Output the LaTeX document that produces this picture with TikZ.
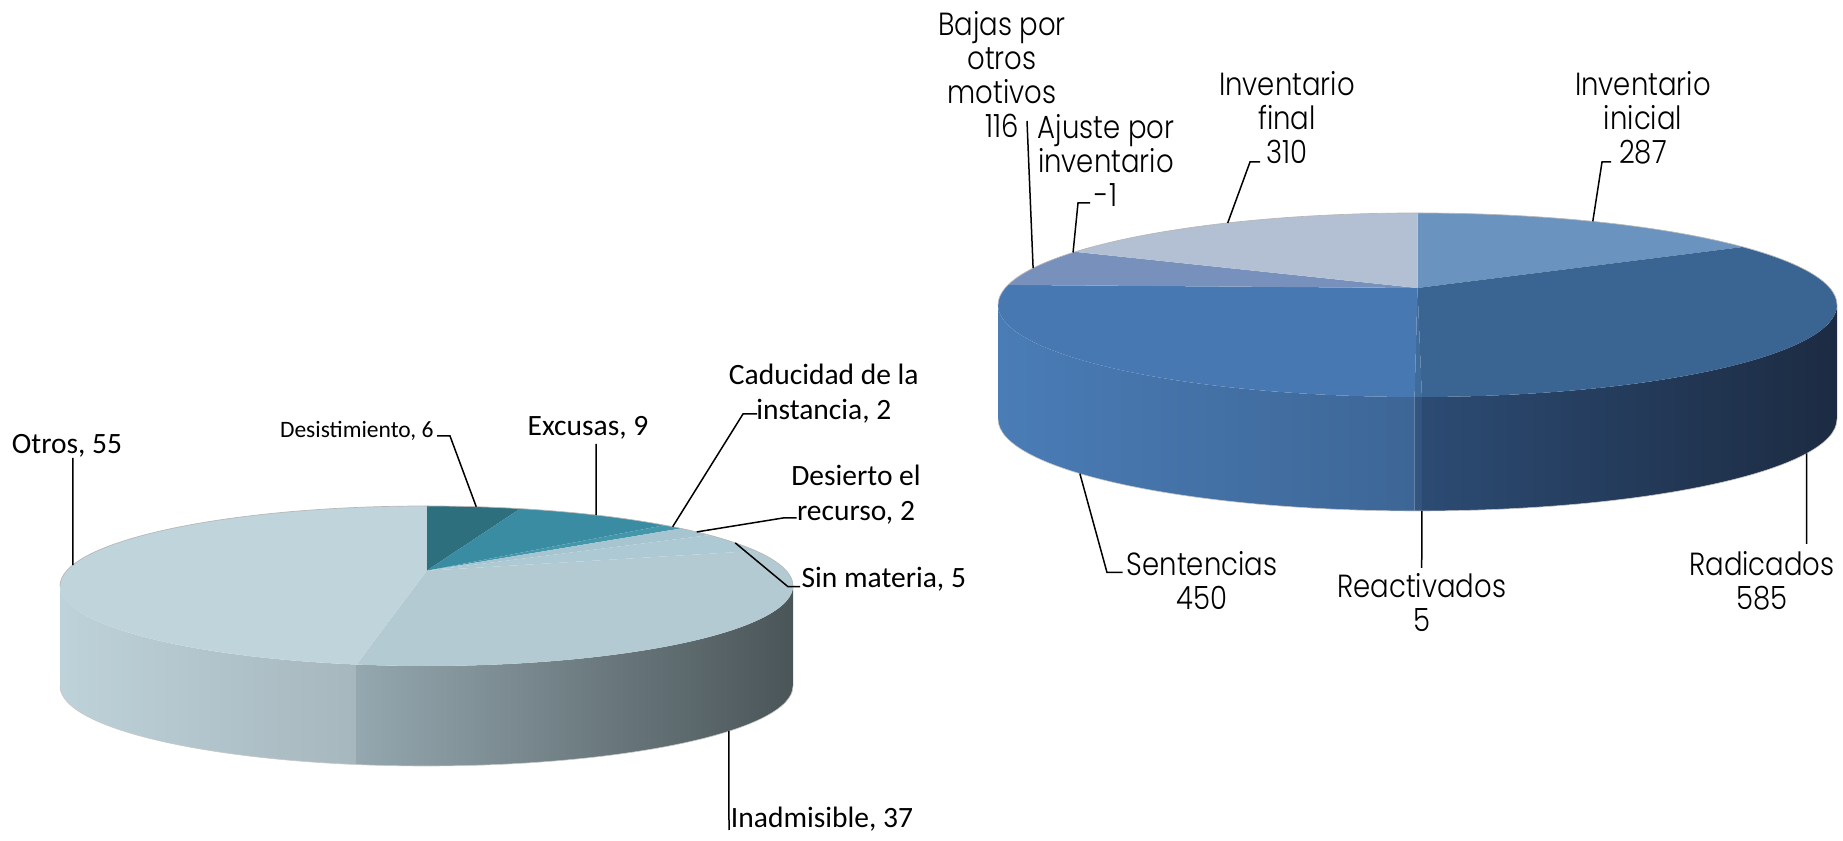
\documentclass[tikz,border=0pt]{standalone}
\usepackage{fontspec}
\usetikzlibrary{calc}
\newfontfamily\calib{Carlito}
\IfFontExistsTF{Poppins Light}{\newfontfamily\gothic{Poppins Light}[FakeStretch=0.86]}{\newfontfamily\gothic{Poppins}[FakeStretch=0.86]}
% left pie colours
\definecolor{cDes}{HTML}{2E6F7D}
\definecolor{cExc}{HTML}{3A8CA2}
\definecolor{cCad}{HTML}{4496AB}
\definecolor{cDsi}{HTML}{A6C5D0}
\definecolor{cSin}{HTML}{ADC9D3}
\definecolor{cIna}{HTML}{B4CAD3}
\definecolor{cOtr}{HTML}{C0D4DC}
\definecolor{otL}{HTML}{BED2DA}
\definecolor{otR}{HTML}{A6B7BD}
\definecolor{inL}{HTML}{95A8AF}
\definecolor{inR}{HTML}{4A5558}
% right pie colours
\definecolor{cIni}{HTML}{6A93BF}
\definecolor{cRad}{HTML}{3A6491}
\definecolor{cRea}{HTML}{3F6C9B}
\definecolor{cSen}{HTML}{4778B2}
\definecolor{cBaj}{HTML}{7891BC}
\definecolor{cFin}{HTML}{B3BFD3}
\definecolor{seL}{HTML}{4A7CB6}
\definecolor{seR}{HTML}{3D6696}
\definecolor{raL}{HTML}{2C4B73}
\definecolor{raR}{HTML}{1C2B42}
\definecolor{reS}{HTML}{33557F}
% helpers
\newcommand{\pieSlice}[5]{\fill[#1] (#2) -- ($(#3)+(#4:\Rx and \Ry)$) arc[start angle=#4, end angle=#5, x radius=\Rx, y radius=\Ry] -- cycle;}
\newcommand{\pieSide}[5]{\shade[left color=#1, right color=#2] ($(#3)+(#4:\Rx and \Ry)$) arc[start angle=#4, end angle=#5, x radius=\Rx, y radius=\Ry] -- ++(0,-\Hh) arc[start angle=#5, end angle=#4, x radius=\Rx, y radius=\Ry] -- cycle;}
\begin{document}
\begin{tikzpicture}[x=1pt,y=1pt,
  lead/.style={black, line width=1.5pt},
  lbl/.style={inner sep=0pt, font=\calib\fontsize{29.5}{35}\selectfont, align=center},
  rlbl/.style={inner sep=0pt, font=\gothic\fontsize{32}{34}\selectfont, align=center},
  rimline/.style={draw=black!28, line width=0.7pt}]
\useasboundingbox (0,0) rectangle (1843,840);

% ================= LEFT PIE =================
\coordinate (CL) at (426.5,254);
\coordinate (AL) at (426.7,269.3);
\def\Rx{366.5pt }\def\Ry{80pt }\def\Hh{100}
\pieSide{otL}{otR}{CL}{180}{259}
\pieSide{inL}{inR}{CL}{259}{360}
\draw[black!22, line width=0.6pt] ($(CL)+(180:\Rx and \Ry)+(0,-\Hh)$) arc[start angle=180, end angle=360, x radius=\Rx, y radius=\Ry];
\pieSlice{cDes}{AL}{CL}{90}{75.2}
\pieSlice{cExc}{AL}{CL}{75.2}{49.5}
\pieSlice{cCad}{AL}{CL}{49.5}{46}
\pieSlice{cDsi}{AL}{CL}{46}{39.5}
\pieSlice{cSin}{AL}{CL}{39.5}{26}
\pieSlice{cIna}{AL}{CL}{26}{-101}
\pieSlice{cOtr}{AL}{CL}{-101}{-270}
\draw[rimline] ($(CL)+(0:\Rx and \Ry)$) arc[start angle=0, end angle=180, x radius=\Rx, y radius=\Ry];

% left labels
\node[lbl] (otros) at (67,394.5) {Otros, 55};
\node[lbl, font=\calib\fontsize{23.5}{28}\selectfont] (desist) at (356.8,409) {Desistimiento, 6};
\node[lbl] (excusas) at (588,412) {Excusas, 9};
\node[lbl] (caduc) at (823.8,446.5) {Caducidad de la\\instancia, 2};
\node[lbl] (desierto) at (856,345.5) {Desierto el\\recurso, 2};
\node[lbl] (sinmat) at (883.8,260.5) {Sin materia, 5};
\node[lbl] (inadm) at (822,21) {Inadmisible, 37};

% left leaders
\coordinate (rOt) at ($(CL)+(164.8:\Rx and \Ry)$);
\coordinate (kOt) at (72.9,382);
\coordinate (rDe) at ($(CL)+(82.2:\Rx and \Ry)$);
\coordinate (kDe1) at (437,404);
\coordinate (kDe2) at (450,404);
\coordinate (rEx) at ($(CL)+(62.45:\Rx and \Ry)$);
\coordinate (kEx) at (596,396);
\coordinate (rCa) at ($(CL)+(47.8:\Rx and \Ry)$);
\coordinate (kCa1) at (757,426);
\coordinate (kCa2) at (743,426);
\coordinate (rDs) at ($(CL)+(42.5:\Rx and \Ry)$);
\coordinate (kDs1) at (796.7,322);
\coordinate (kDs2) at (783,322);
\coordinate (rSi) at ($(CL)+(32.6:\Rx and \Ry)$);
\coordinate (kSi1) at (800,253.3);
\coordinate (kSi2) at (788,253.3);
\coordinate (rIn) at ($(CL)+(-34.4:\Rx and \Ry)+(0,-\Hh)$);
\coordinate (kIn) at (729,10);
\draw[lead] (kOt) -- (rOt);
\draw[lead] (kDe1) -- (kDe2) -- (rDe);
\draw[lead] (kEx) -- (rEx);
\draw[lead] (kCa1) -- (kCa2) -- (rCa);
\draw[lead] (kDs1) -- (kDs2) -- (rDs);
\draw[lead] (kSi1) -- (kSi2) -- (rSi);
\draw[lead] (rIn) -- (kIn);

% ================= RIGHT PIE =================
\coordinate (CR) at (1417.5,535);
\coordinate (AR) at (1417.5,552);
\def\Rx{419.5pt }\def\Ry{92pt }\def\Hh{114}
\pieSide{seL}{seR}{CR}{180}{269.6}
\pieSide{reS}{reS}{CR}{269.6}{270.6}
\pieSide{raL}{raR}{CR}{270.6}{360}
\draw[black!22, line width=0.6pt] ($(CR)+(180:\Rx and \Ry)+(0,-\Hh)$) arc[start angle=180, end angle=360, x radius=\Rx, y radius=\Ry];
\pieSlice{cIni}{AR}{CR}{90}{39.1}
\pieSlice{cRad}{AR}{CR}{39.1}{-89.4}
\pieSlice{cRea}{AR}{CR}{-89.4}{-90.4}
\pieSlice{cSen}{AR}{CR}{-90.4}{-192.6}
\pieSlice{cBaj}{AR}{CR}{-192.6}{-215.3}
\pieSlice{cFin}{AR}{CR}{-215.3}{-270}
\draw[rimline] ($(CR)+(0:\Rx and \Ry)$) arc[start angle=0, end angle=180, x radius=\Rx, y radius=\Ry];

% right labels
\node[rlbl] (bajas) at (1002,765.4) {Bajas por\\otros\\motivos\\116};
\node[rlbl] (ajuste) at (1106,679.7) {Ajuste por\\inventario\\-1};
\node[rlbl] (invfin) at (1287,722.5) {Inventario\\final\\310};
\node[rlbl] (invini) at (1643,722.5) {Inventario\\inicial\\287};
\node[rlbl] (sent) at (1202,259) {Sentencias\\450};
\node[rlbl] (react) at (1421.7,237.2) {Reactivados\\5};
\node[rlbl] (radic) at (1762,259) {Radicados\\585};

% right leaders
\coordinate (rBa) at ($(CR)+(156.4:\Rx and \Ry)$);
\coordinate (kBa) at (1027,719);
\coordinate (rAj) at ($(CR)+(145.2:\Rx and \Ry)$);
\coordinate (kAj1) at (1090,637);
\coordinate (kAj2) at (1078,637);
\coordinate (rFi) at ($(CR)+(116.9:\Rx and \Ry)$);
\coordinate (kFi1) at (1260,678);
\coordinate (kFi2) at (1250,678);
\coordinate (rIi) at ($(CR)+(65.3:\Rx and \Ry)$);
\coordinate (kIi1) at (1611,678);
\coordinate (kIi2) at (1602,678);
\coordinate (rSe) at ($(CR)+(-143.6:\Rx and \Ry)+(0,-\Hh)$);
\coordinate (kSe1) at (1107,267.5);
\coordinate (kSe2) at (1122.5,267.5);
\coordinate (rRe) at ($(CR)+(-89.4:\Rx and \Ry)+(0,-\Hh)$);
\coordinate (kRe) at (1421.7,272);
\coordinate (rRa) at ($(CR)+(-21.9:\Rx and \Ry)+(0,-\Hh)$);
\coordinate (kRa) at (1806.7,296);
\draw[lead] (kBa) -- (rBa);
\draw[lead] (kAj1) -- (kAj2) -- (rAj);
\draw[lead] (kFi1) -- (kFi2) -- (rFi);
\draw[lead] (kIi1) -- (kIi2) -- (rIi);
\draw[lead] (rSe) -- (kSe1) -- (kSe2);
\draw[lead] (rRe) -- (kRe);
\draw[lead] (rRa) -- (kRa);
\end{tikzpicture}
\end{document}
